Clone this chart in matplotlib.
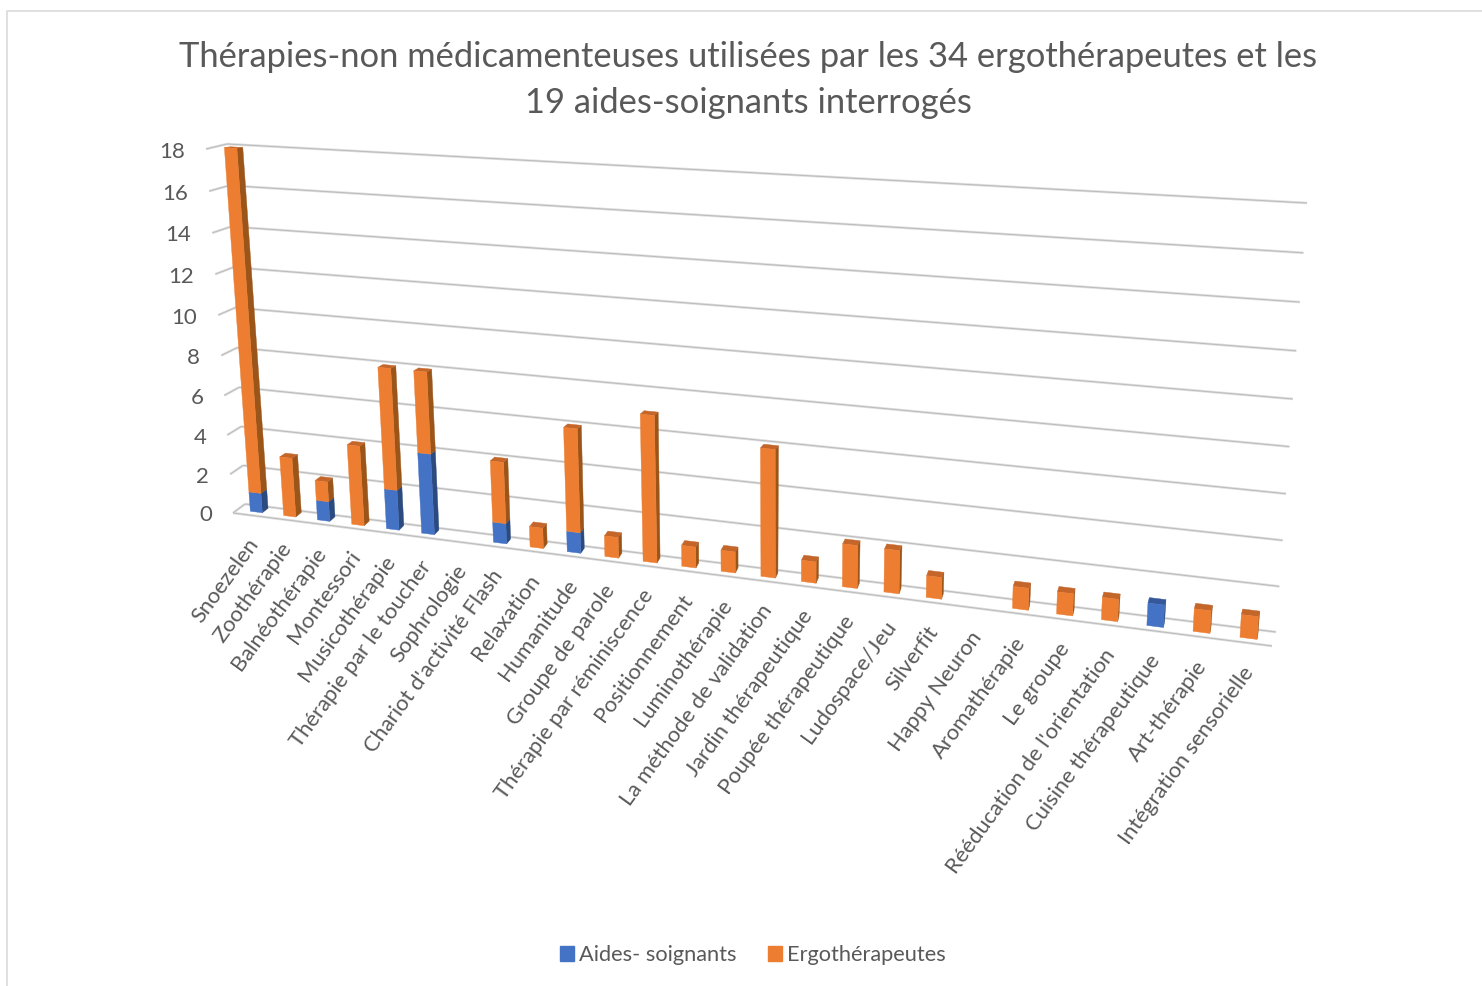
import numpy as np
import matplotlib
matplotlib.use("Agg")
import matplotlib.pyplot as plt
from matplotlib.transforms import Transform, Affine2D, IdentityTransform
from matplotlib.lines import Line2D
from matplotlib.patches import Patch

# ---------- data ----------
title = ("Thérapies-non médicamenteuses utilisées par les 34 ergothérapeutes et les\n"
         "19 aides-soignants interrogés")
categories = ["Snoezelen", "Zoothérapie", "Balnéothérapie", "Montessori", "Musicothérapie",
              "Thérapie par le toucher", "Sophrologie", "Chariot d'activité Flash", "Relaxation",
              "Humanitude", "Groupe de parole", "Thérapie par réminiscence", "Positionnement",
              "Luminothérapie", "La méthode de validation", "Jardin thérapeutique",
              "Poupée thérapeutique", "Ludospace/Jeu", "Silverfit", "Happy Neuron",
              "Aromathérapie", "Le groupe", "Rééducation de l'orientation",
              "Cuisine thérapeutique", "Art-thérapie", "Intégration sensorielle"]
aides = [1, 0, 1, 0, 2, 4, 0, 1, 0, 1, 0, 0, 0, 0, 0, 0, 0, 0, 0, 0, 0, 0, 0, 1, 0, 0]
ergo  = [17, 3, 1, 4, 6, 4, 0, 3, 1, 5, 1, 7, 1, 1, 6, 1, 2, 2, 1, 0, 1, 1, 1, 0, 1, 1]
y_ticks = list(range(0, 19, 2))
series_names = ["Aides- soignants", "Ergothérapeutes"]

# ---------- styling ----------
W, H = 1482, 986
BW = 0.36
TXT = "#595959"
FACES = {"Aides- soignants": ("#4472C4", "#2A4A80", "#34589A"),
         "Ergothérapeutes": ("#ED7D31", "#9C5519", "#C4652A")}
plt.rcParams["font.family"] = ["Lato", "DejaVu Sans"]


# ---------- 3-D look: plane -> picture projections ----------
def fit(src, dst):
    A, b = [], []
    for (u, v), (x, y) in zip(src, dst):
        A.append([u, v, 1, 0, 0, 0, -u * x, -v * x]); b.append(x)
        A.append([0, 0, 0, u, v, 1, -u * y, -v * y]); b.append(y)
    s = np.linalg.lstsq(np.array(A, float), np.array(b, float), rcond=None)[0]
    return np.append(s, 1).reshape(3, 3)


class Perspective(Transform):
    input_dims = output_dims = 2
    is_separable = False
    has_inverse = False

    def __init__(self, M):
        super().__init__()
        self.M = M

    def transform_non_affine(self, values):
        p = np.c_[values, np.ones(len(values))] @ self.M.T
        return p[:, :2] / p[:, 2:]


to_display = Affine2D().scale(1, -1).translate(0, H)
U0, U1 = -0.5, 26.0

T_wall = Perspective(fit([(U0, 0), (U1, 0), (U0, 18), (U1, 18)],
                         [(245, 504), (1276, 632), (227, 144), (1307, 203)])) + to_display
T_tip = Perspective(fit([(U0, 0), (U1, 0), (U0, 18), (U1, 18)],
                        [(233, 513), (1272, 646), (206, 149), (1300, 210)])) + to_display
T_front = Perspective(fit(
    [(0, 0), (0, 18), (3, 0), (3, 4), (11, 0), (11, 7), (14, 0), (14, 6), (25, 0), (25, 1),
     (BW, 0), (BW, 18), (14 + BW, 0), (14 + BW, 6), (25 + BW, 0), (25 + BW, 1)],
    [(250, 511), (225, 148), (352, 525), (348, 445), (643, 562), (641, 414), (762, 577), (761, 448),
     (1241, 637), (1242, 615), (262, 512), (236, 148), (774, 577), (774, 449), (1256, 639), (1258, 617)]
)) + to_display
T_back = Perspective(fit(
    [(BW, 18), (BW, 0), (14 + BW, 6), (14 + BW, 0), (25 + BW, 1), (25 + BW, 0), (11 + BW, 7), (11 + BW, 0),
     (5 + BW, 0)],
    [(243, 147), (268, 508), (778, 446), (778, 573), (1259, 612), (1259, 632), (658, 413), (660, 558),
     (439, 530)]
)) + to_display

fig = plt.figure(figsize=(W / 100, H / 100), dpi=100, facecolor="white")
ax = fig.add_axes([0, 0, 1, 1])
ax.set_xlim(U0, U1)
ax.set_ylim(0, 18)
ax.set_autoscale_on(False)
ax.set_axis_off()

# chart frame
fig.add_artist(Line2D([6.5 / W, 6.5 / W, 1], [0, 1 - 10.5 / H, 1 - 10.5 / H], color="#DDDDDD", lw=1.3))


def grid_line(xs, ys, transform):
    ax.plot(xs, ys, transform=transform, color="#DCDCDC", lw=1.8, clip_on=False, zorder=1,
            solid_capstyle="butt")
    ax.plot(xs, ys, transform=transform, color="#B8B8B8", lw=0.6, clip_on=False, zorder=1.1,
            solid_capstyle="butt")


for v in y_ticks:
    grid_line([U0, U1], [v, v], T_wall)
    a = T_tip.transform([(U0, v)])[0]
    b = T_wall.transform([(U0, v)])[0]
    grid_line([a[0], b[0]], [a[1], b[1]], IdentityTransform())
    ax.text(U0, v, str(v), transform=T_tip + Affine2D().translate(-21, -0.5), ha="right",
            va="center_baseline", color=TXT, fontsize=16, clip_on=False)
grid_line([U0, U1], [0, 0], T_tip)


# ---------- bars ----------
def bar_segment(i, v0, v1, colours, with_top):
    front, side, top = colours
    l, r = i, i + BW
    xy_f = T_front.transform([(l, v0), (r, v0), (r, v1), (l, v1)])
    xy_b = T_back.transform([(l, v0), (r, v0), (r, v1), (l, v1)])
    polys = [(np.array([xy_f[1], xy_b[1], xy_b[2], xy_f[2]]), side),
             (xy_f, front)]
    if with_top:
        polys.insert(1, (np.array([xy_f[3], xy_f[2], xy_b[2], xy_b[3]]), top))
    for p, c in polys:
        ax.fill(p[:, 0], p[:, 1], color=c, lw=0.3, transform=IdentityTransform(), clip_on=False, zorder=3)


for i, (a, e) in enumerate(zip(aides, ergo)):
    if a:
        bar_segment(i, 0, a, FACES[series_names[0]], e == 0)
    if e:
        bar_segment(i, a, a + e, FACES[series_names[1]], True)

# ---------- category labels ----------
for i, name in enumerate(categories):
    ax.text(i, 0, name, transform=T_front + Affine2D().translate(4 + 6 * i / 25, -29 - 3 * i / 25),
            rotation=54, rotation_mode="anchor", ha="right", va="center",
            color=TXT, fontsize=15.8, clip_on=False)

# ---------- title, legend ----------
fig.text(748 / W, 1 - 80 / H, title, ha="center", va="center", color=TXT, fontsize=24.85,
         linespacing=1.53)
fig.legend(handles=[Patch(color=FACES[n][0], label=n) for n in series_names],
           loc="center", bbox_to_anchor=(753 / W, 1 - 955 / H), ncol=2, frameon=False,
           fontsize=15.7, labelcolor=TXT, handlelength=0.64, handleheight=0.64,
           handletextpad=0.23, columnspacing=1.45, borderpad=0, borderaxespad=0)

fig.savefig("out.png", dpi=100)
